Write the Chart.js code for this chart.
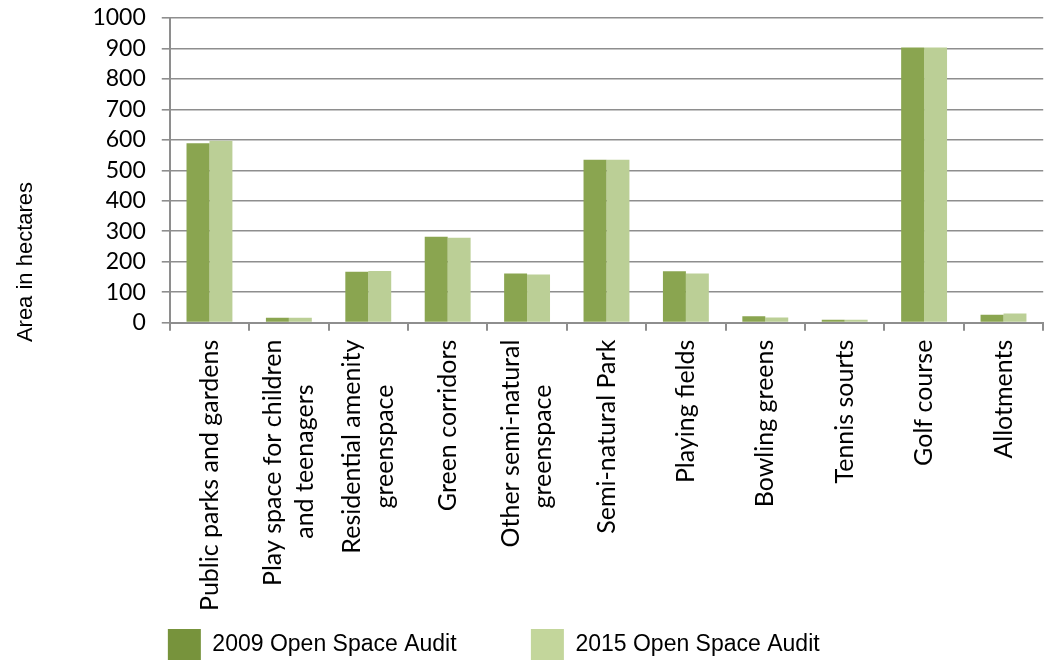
<!DOCTYPE html>
<html>
<head>
<meta charset="utf-8">
<script src="https://cdn.jsdelivr.net/npm/chart.js@4.4.1/dist/chart.umd.min.js"></script>
<style>
	html, body { margin: 0; padding: 0; background: #fff; }
	#wrap { width: 1045px; height: 660px; }
</style>
</head>
<body>
<div id="wrap"><canvas id="chartjs-canvas"></canvas></div>
<script>
const categories = [
	['Public parks and gardens'],
	['Play space for children', 'and teenagers'],
	['Residential amenity', 'greenspace'],
	['Green corridors'],
	['Other semi-natural', 'greenspace'],
	['Semi-natural Park'],
	['Playing fields'],
	['Bowling greens'],
	['Tennis sourts'],
	['Golf course'],
	['Allotments']
];
const audit2009 = [589, 16, 167, 282, 161, 535, 169, 21, 10, 903, 26];
const audit2015 = [597, 16, 170, 279, 158, 535, 161, 17, 10, 903, 30];
const yTicks = [0, 100, 200, 300, 400, 500, 600, 700, 800, 900, 1000];

const xFont = {family: 'Lato, sans-serif', size: 25, lineHeight: 1.3};
const yFont = {family: 'Lato, sans-serif', size: 23};
const arialFont = 'Liberation Sans, Arial, sans-serif';

// pad shorter lines with spaces so stacked lines look centred on each other
const centerLines = (lines, font) => {
	if (lines.length < 2) return lines[0];
	const ctx = document.createElement('canvas').getContext('2d');
	ctx.font = `${font.size}px ${font.family}`;
	const widths = lines.map(l => ctx.measureText(l).width);
	const max = Math.max(...widths);
	const space = ctx.measureText(' ').width;
	return lines.map((l, i) => l + ' '.repeat(Math.round((max - widths[i]) / 2 / space)));
};

// rotated multi-line labels: centre the block of lines on the tick
const centerLabelBlocks = {
	id: 'centerLabelBlocks',
	beforeDraw: chart => {
		const scale = chart.scales.x;
		scale.getLabelItems(chart.chartArea).forEach(item => {
			if (item._centered || !Array.isArray(item.label)) return;
			item.options.translation[0] -= (item.label.length - 1) * item.font.lineHeight / 2;
			item._centered = true;
		});
	}
};

const data = {
	labels: categories.map(c => centerLines(c, xFont)),
	datasets: [{
		label: '2009 Open Space Audit',
		data: audit2009,
		backgroundColor: '#8aa550',
		legendColor: '#77933c'
	}, {
		label: '2015 Open Space Audit',
		data: audit2015,
		backgroundColor: '#bbcf96',
		legendColor: '#c3d69b'
	}]
};

const config = {
	type: 'bar',
	data,
	plugins: [centerLabelBlocks],
	options: {
		responsive: true,
		maintainAspectRatio: false,
		animation: false,
		layout: {padding: {top: 0, right: 0, left: 0, bottom: -11}},
		datasets: {
			bar: {categoryPercentage: 0.578, barPercentage: 1}
		},
		plugins: {
			tooltip: {enabled: false},
			legend: {
				position: 'bottom',
				labels: {
					color: '#000',
					boxWidth: 33,
					boxHeight: 32,
					padding: 4,
					font: {family: arialFont, size: 23},
					// trailing spaces only widen the items to match the original spacing
					generateLabels: chart => chart.data.datasets.map((ds, i) => ({
						text: ds.label + ' '.repeat(i === 0 ? 11 : 9),
						fillStyle: ds.legendColor,
						strokeStyle: ds.legendColor,
						lineWidth: 0,
						datasetIndex: i
					}))
				}
			}
		},
		scales: {
			x: {
				afterFit: scale => { scale.height += 5; },
				grid: {
					offset: true,
					drawOnChartArea: false,
					drawTicks: true,
					tickLength: 8,
					color: '#8e8e8e',
					lineWidth: 2
				},
				border: {color: '#8e8e8e', width: 2},
				ticks: {
					color: '#000',
					font: xFont,
					minRotation: 90,
					maxRotation: 90,
					autoSkip: false,
					padding: 9
				}
			},
			y: {
				min: 0,
				max: 1000,
				afterBuildTicks: scale => { scale.ticks = yTicks.map(v => ({value: v})); },
				afterFit: scale => { scale.paddingTop = 18; },
				grid: {
					color: '#8e8e8e',
					lineWidth: 1.6,
					tickLength: 8
				},
				border: {color: '#8e8e8e', width: 2},
				ticks: {
					color: '#000',
					font: yFont,
					padding: 16,
					autoSkip: false,
					callback: v => String(v)
				},
				title: {
					display: true,
					text: 'Area in hectares' + ' '.repeat(30),
					color: '#000',
					font: {family: arialFont, size: 22},
					padding: {top: 13, bottom: 37}
				}
			}
		}
	}
};

new Chart(document.getElementById('chartjs-canvas'), config);
</script>
</body>
</html>
